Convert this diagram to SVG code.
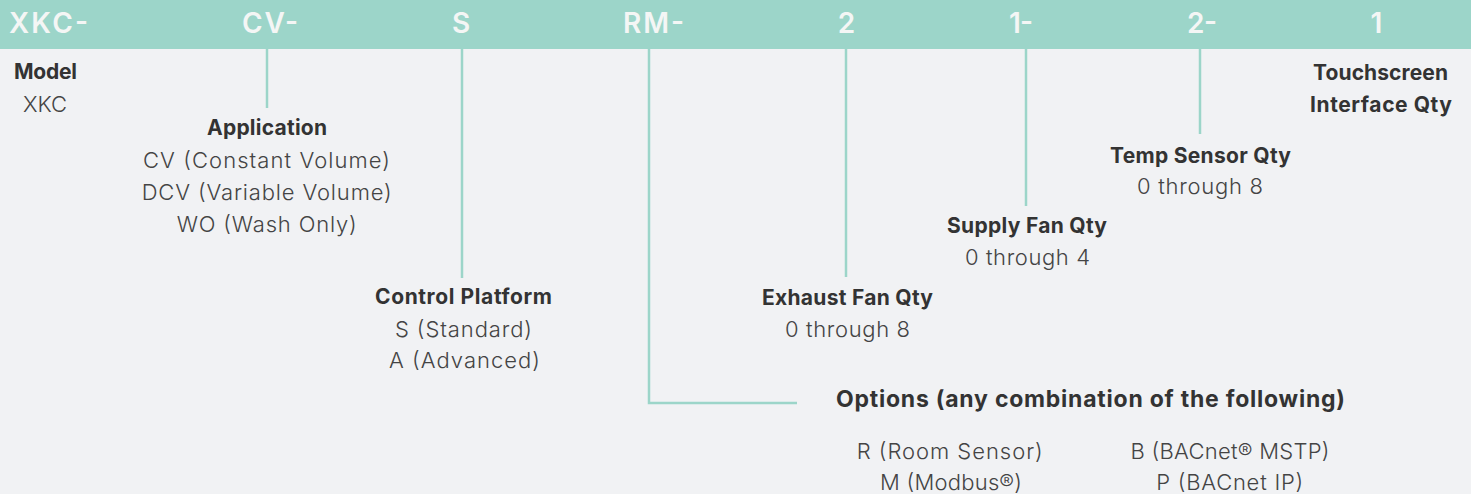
<svg xmlns="http://www.w3.org/2000/svg" width="1471" height="494" viewBox="0 0 1471 494">
<style>
.hdr{font-family:Inter,"Liberation Sans","DejaVu Sans",sans-serif;font-size:28px;font-weight:600;fill:#f4f6f5}
.t{font-family:Inter,"Liberation Sans","DejaVu Sans",sans-serif;font-size:21px;font-weight:700;fill:#333333;text-anchor:middle}
.o{font-size:23px}
.v{font-family:Inter,"Liberation Sans","DejaVu Sans",sans-serif;font-size:22px;font-weight:300;fill:#444444;text-anchor:middle}
.c{fill:none;stroke:#9cd5c9;stroke-width:2.5}
</style>
<rect x="0" y="0" width="1471" height="494" fill="#f1f2f4"/>
<g id="header">
<rect x="0" y="0" width="1471" height="49" fill="#9cd5c9"/>
<text class="hdr" x="9" y="33" textLength="79">XKC-</text>
<text class="hdr" x="242" y="33" textLength="56">CV-</text>
<text class="hdr" x="461" y="33" text-anchor="middle">S</text>
<text class="hdr" x="623" y="33" textLength="61">RM-</text>
<text class="hdr" x="846.5" y="33" text-anchor="middle">2</text>
<text class="hdr" x="1009" y="33" textLength="24">1-</text>
<text class="hdr" x="1187" y="33" textLength="30">2-</text>
<text class="hdr" x="1376.5" y="33" text-anchor="middle">1</text>
</g>
<g id="connectors">
<path class="c" d="M267 49V108"/>
<path class="c" d="M462 49V278"/>
<path class="c" d="M649 49V403H797"/>
<path class="c" d="M846 49V277"/>
<path class="c" d="M1026 49V206"/>
<path class="c" d="M1200 49V134"/>
</g>
<g id="model">
<text class="t" x="45.5" y="79" textLength="63">Model</text>
<text class="v" x="45" y="112" textLength="44">XKC</text>
</g>
<g id="application">
<text class="t" x="267" y="135" textLength="120">Application</text>
<text class="v" x="266.5" y="168" textLength="247">CV (Constant Volume)</text>
<text class="v" x="266.7" y="200" textLength="250">DCV (Variable Volume)</text>
<text class="v" x="266.7" y="232" textLength="180">WO (Wash Only)</text>
</g>
<g id="control-platform">
<text class="t" x="463.5" y="304" textLength="177">Control Platform</text>
<text class="v" x="463.5" y="337" textLength="137">S (Standard)</text>
<text class="v" x="464.5" y="368" textLength="151">A (Advanced)</text>
</g>
<g id="exhaust-fan">
<text class="t" x="847.5" y="305" textLength="171">Exhaust Fan Qty</text>
<text class="v" x="847.5" y="337" textLength="125">0 through 8</text>
</g>
<g id="supply-fan">
<text class="t" x="1027" y="233" textLength="160">Supply Fan Qty</text>
<text class="v" x="1027.5" y="265" textLength="125">0 through 4</text>
</g>
<g id="temp-sensor">
<text class="t" x="1200.5" y="163" textLength="181">Temp Sensor Qty</text>
<text class="v" x="1200" y="194" textLength="126">0 through 8</text>
</g>
<g id="touchscreen">
<text class="t" x="1380.5" y="80" textLength="135">Touchscreen</text>
<text class="t" x="1381" y="112" textLength="142">Interface Qty</text>
</g>
<g id="options">
<text class="t o" x="1090.5" y="407" textLength="509">Options (any combination of the following)</text>
<text class="v" x="949.7" y="459" textLength="186">R (Room Sensor)</text>
<text class="v" x="951" y="490" textLength="142">M (Modbus®)</text>
<text class="v" x="1230" y="459" textLength="199">B (BACnet® MSTP)</text>
<text class="v" x="1229.7" y="490" textLength="147">P (BACnet IP)</text>
</g>
</svg>
